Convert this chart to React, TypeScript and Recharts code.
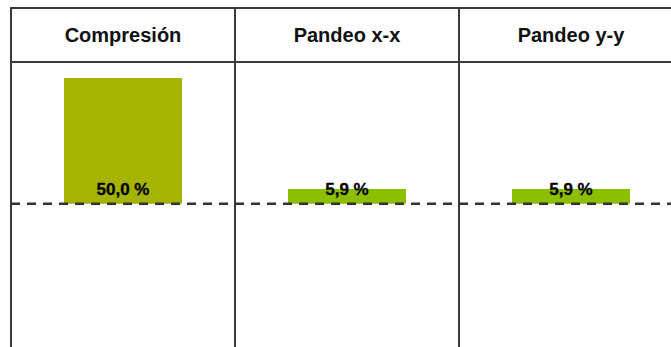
import React from 'react';
import { BarChart, Bar, XAxis, YAxis, Cell, LabelList, ReferenceLine, ReferenceArea } from 'recharts';

const categories = ['Compresión', 'Pandeo x-x', 'Pandeo y-y'];
const utilization = [50.0, 5.9, 5.9];

const barColors = ['#a5b400', '#8cbf00', '#8cbf00'];
const lineColor = '#3a3a3a';
const headerTop = 8;
const headerBottom = 62;
const fontFamily = '"Liberation Sans", Arial, sans-serif';

const data = categories.map((name, i) => ({ name, value: utilization[i] }));

const formatPct = (v: number) => `${v.toFixed(1).replace('.', ',')} %`;

function HeaderTick(props: any) {
  const { x, payload } = props;
  const half = payload?.offset ?? 112;
  return (
    <g>
      <rect
        x={x - half}
        y={headerTop}
        width={half * 2}
        height={headerBottom - headerTop}
        fill="none"
        stroke={lineColor}
        strokeWidth={2}
      />
      <text
        x={x}
        y={42}
        textAnchor="middle"
        fontFamily={fontFamily}
        fontWeight="bold"
        fontSize={20}
        fill="#111"
      >
        {payload.value}
      </text>
    </g>
  );
}

function ValueLabel(props: any) {
  const { x, y, width, height, value } = props;
  return (
    <text
      x={x + width / 2}
      y={y + height - 9}
      textAnchor="middle"
      fontFamily={fontFamily}
      fontWeight="bold"
      fontSize={17}
      fill="#000"
      stroke="#000"
      strokeWidth={0.3}
    >
      {formatPct(value)}
    </text>
  );
}

export default function App() {
  return (
    <div
      style={{
        position: 'absolute',
        left: 0,
        top: 0,
        width: 671,
        height: 347,
        overflow: 'hidden',
        background: '#fff',
      }}
    >
      <BarChart
        width={690}
        height={400}
        data={data}
        margin={{ top: headerTop, right: 7, left: 11, bottom: 0 }}
        barSize={118}
      >
        <XAxis
          dataKey="name"
          orientation="top"
          height={headerBottom - headerTop}
          axisLine={{ stroke: lineColor, strokeWidth: 2 }}
          tickLine={false}
          tick={<HeaderTick />}
          interval={0}
        />
        <YAxis hide domain={[-78, 56.4]} allowDataOverflow />
        {categories.map((c) => (
          <ReferenceArea
            key={c}
            x1={c}
            x2={c}
            fill="none"
            stroke={lineColor}
            strokeWidth={2}
            ifOverflow="visible"
          />
        ))}
        <Bar dataKey="value" isAnimationActive={false}>
          {data.map((d, i) => (
            <Cell key={d.name} fill={barColors[i]} />
          ))}
          <LabelList dataKey="value" content={<ValueLabel />} />
        </Bar>
        <ReferenceLine y={0} stroke="#333" strokeWidth={2.5} strokeDasharray="9 7" ifOverflow="visible" />
      </BarChart>
    </div>
  );
}
